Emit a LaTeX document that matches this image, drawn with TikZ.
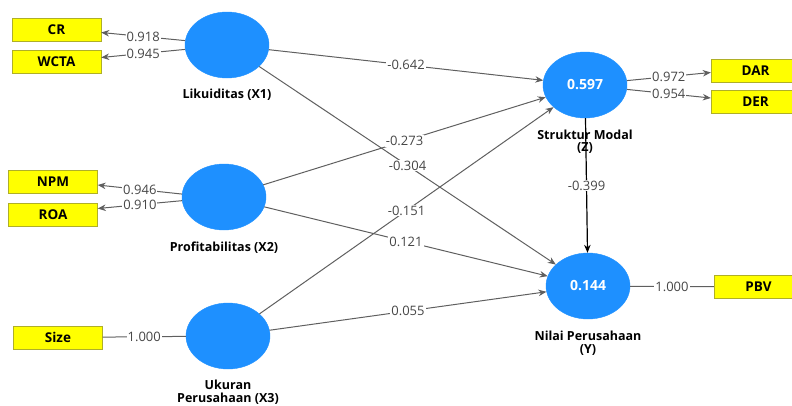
\documentclass[tikz,border=0pt]{standalone}
\usepackage{fontspec}
\setmainfont{Open Sans}
\usetikzlibrary{shapes,arrows,arrows.meta}
\usetikzlibrary{positioning}
\usetikzlibrary{calc}
\definecolor{lvblue}{RGB}{30,144,255}
\definecolor{indyellow}{RGB}{255,255,0}
\definecolor{indborder}{RGB}{175,175,40}
\definecolor{pathgray}{RGB}{95,95,95}
\definecolor{coefgray}{RGB}{70,70,70}

\begin{document}
\begin{tikzpicture}[>={Stealth[length=8pt,width=6.5pt]}, x=1pt, y=-1pt,
	latent/.style={draw=lvblue, fill=lvblue, ellipse, minimum width=84pt,
		minimum height=66pt, inner sep=0pt, text=white,
		font=\fontsize{14}{16}\selectfont\bfseries},
	indicator/.style={draw=indborder, fill=indyellow, rectangle,
		minimum width=89pt, minimum height=23pt, inner sep=0pt,
		font=\fontsize{13.5}{15}\selectfont\bfseries},
	lvname/.style={align=center, inner sep=0pt,
		font=\fontsize{12.5}{12.5}\selectfont\bfseries},
	coef/.style={fill=white, inner sep=1pt, text=coefgray,
		font=\fontsize{13}{15}\selectfont},
	link/.style={draw=pathgray, line width=1pt},
	]
	\useasboundingbox (0,0) rectangle (792,405);
	\clip (0,0) rectangle (792,405);

	% Latent variables
	% ----------------
	\node[latent] (X1) at (227,45) {};
	\node[latent] (X2) at (224,197) {};
	\node[latent] (X3) at (228,336) {};
	\node[latent] (Z) at (585,85) {0.597};
	\node[latent] (Y) at (588,286) {0.144};

	\node[lvname] (X1name) at (227,95) {Likuiditas (X1)};
	\node[lvname] (X2name) at (224,248) {Profitabilitas (X2)};
	\node[lvname] (X3name) at (228,392) {Ukuran\\Perusahaan (X3)};
	\node[lvname] (Zname) at (585,141.5) {Struktur Modal\\(Z)};
	\node[lvname] (Yname) at (588,343) {Nilai Perusahaan\\(Y)};

	% Indicators
	% ----------
	\node[indicator] (CR) at (56.5,29.5) {CR};
	\node[indicator] (WCTA) at (56.5,61.5) {WCTA};
	\node[indicator] (NPM) at (53,182) {NPM};
	\node[indicator] (ROA) at (53,214.5) {ROA};
	\node[indicator] (Size) at (58,337.5) {Size};
	\node[indicator] (DAR) at (755.5,70.5) {DAR};
	\node[indicator] (DER) at (755.5,102) {DER};
	\node[indicator] (PBV) at (758.5,287) {PBV};

	% outer loadings
	\draw [link,->] (X1.174) -- node[coef]{0.918} ([yshift=-3pt]CR.east);
	\draw [link,->] (X1.186) -- node[coef]{0.945} ([yshift=4pt]WCTA.east);
	\draw [link,->] (X2.176) -- node[coef]{0.946} ([yshift=-3pt]NPM.east);
	\draw [link,->] (X2.185) -- node[coef]{0.910} ([yshift=6pt]ROA.east);
	\draw [link] (X3) -- node[coef]{1.000} (Size);
	\draw [link,->] (Z.6) -- node[coef]{0.972} ([yshift=-2pt]DAR.west);
	\draw [link,->] (Z.-6) -- node[coef]{0.954} ([yshift=4pt]DER.west);
	\draw [link] (Y) -- node[coef]{1.000} (PBV);

	% inner model
	\draw [link,->] (X1) -- node[coef]{-0.642} (Z);
	\draw [link,->] (X2) -- node[coef]{-0.273} (Z);
	\draw [link,->] (X3) -- node[coef]{-0.151} (Z);
	\draw [link,->] (X1) -- node[coef]{-0.304} (Y);
	\draw [link,->] (X2) -- node[coef]{0.121} (Y);
	\draw [link,->] (X3) -- node[coef]{0.055} (Y);
	\draw [->, line width=1.2pt] (Z) -- node[coef]{-0.399} (Y);
\end{tikzpicture}
\end{document}
